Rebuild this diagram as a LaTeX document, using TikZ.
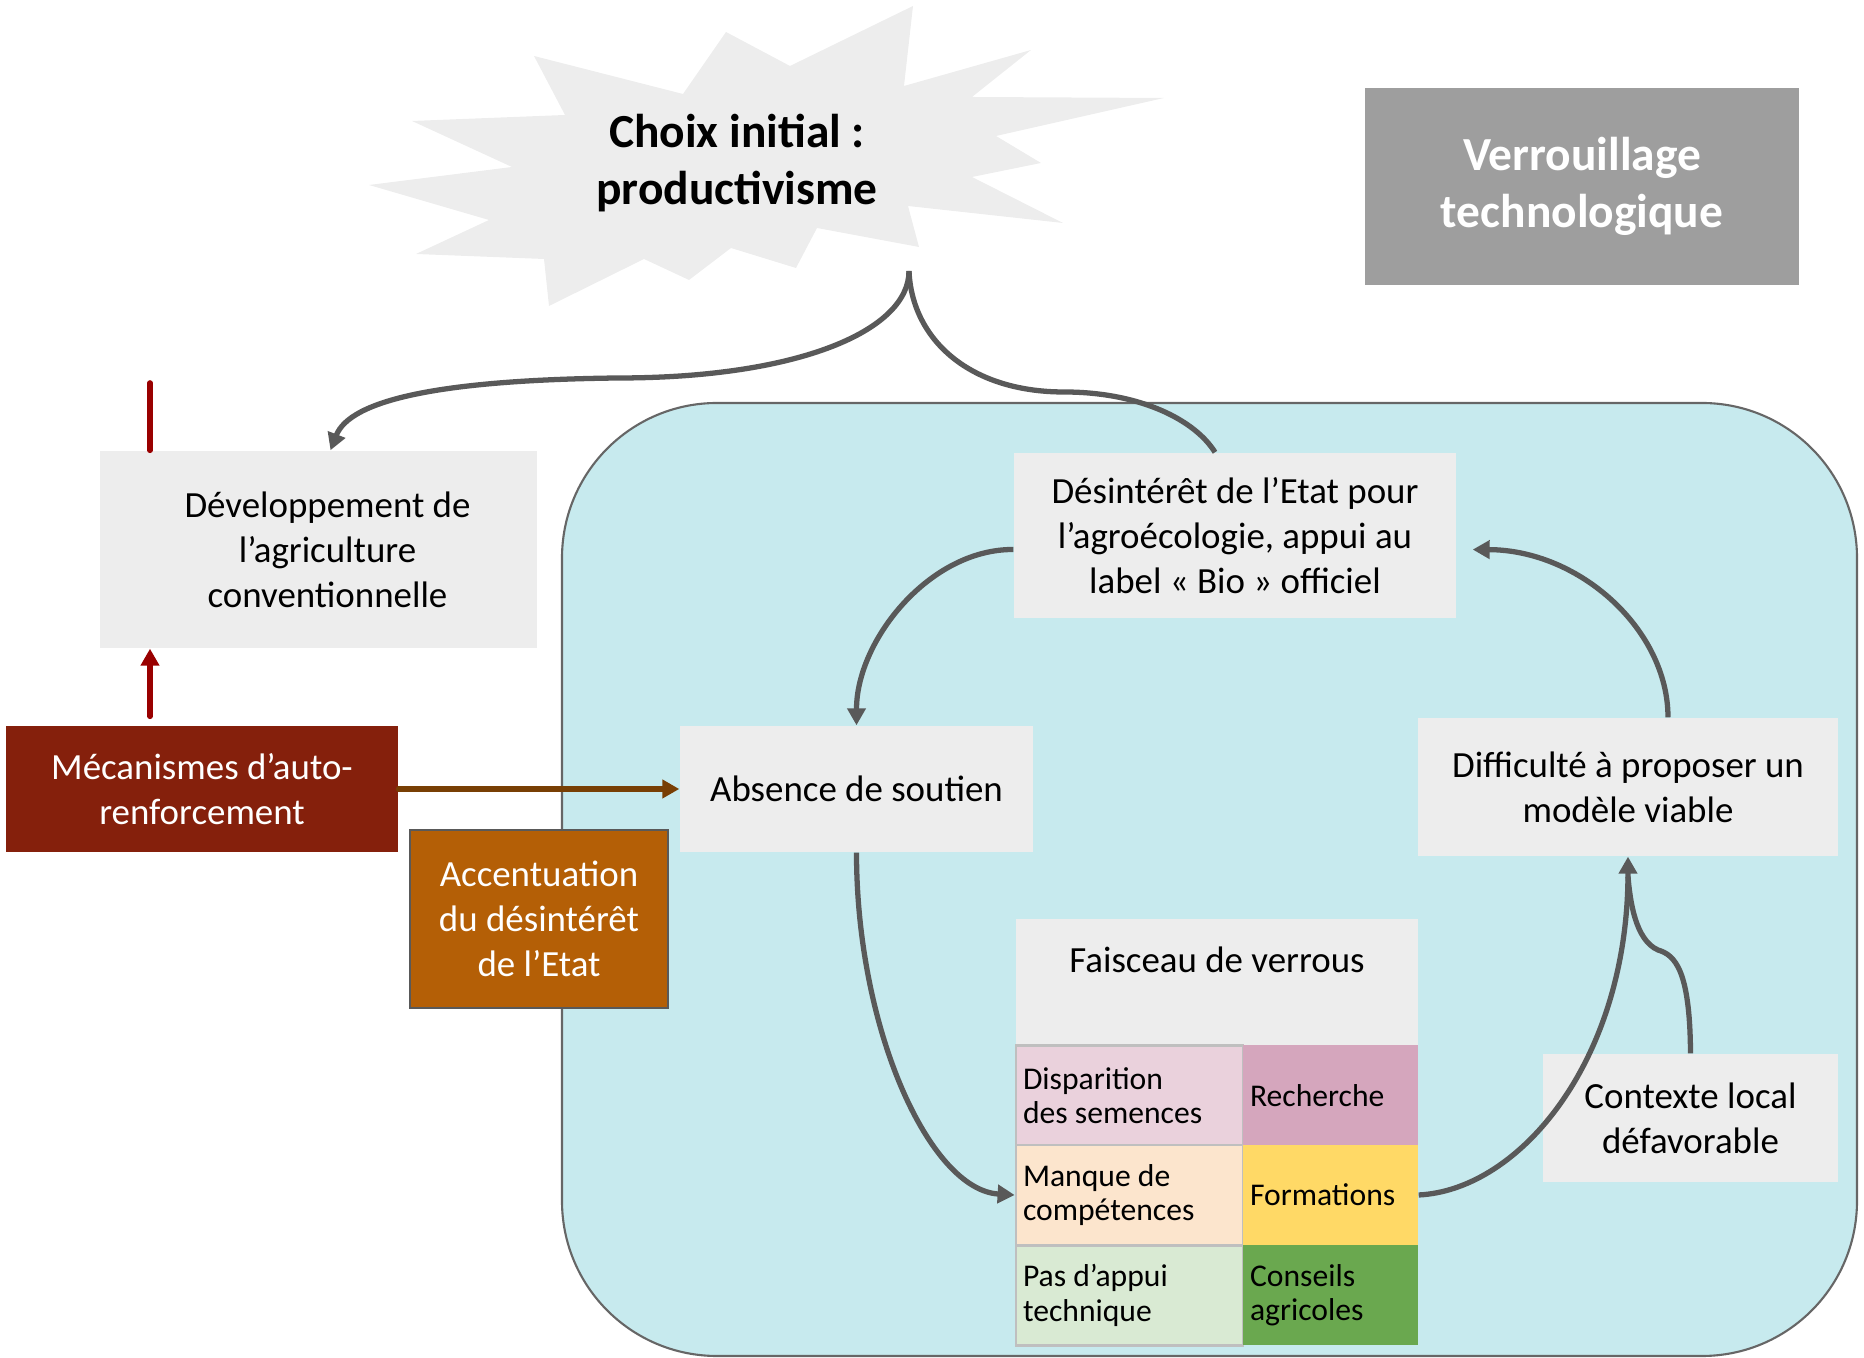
\documentclass[tikz,border=0pt]{standalone}
\usepackage{fontspec}
\setmainfont{Carlito}
\usetikzlibrary{arrows.meta}
\definecolor{boxgray}{RGB}{237,237,237}
\definecolor{lockgray}{RGB}{158,158,158}
\definecolor{lockbg}{RGB}{199,234,238}
\definecolor{mecred}{RGB}{133,32,12}
\definecolor{accbrown}{RGB}{180,95,6}
\definecolor{linkgray}{RGB}{89,89,89}
\definecolor{redline}{RGB}{153,0,0}
\definecolor{brownline}{RGB}{120,63,4}
\definecolor{pinkL}{RGB}{234,209,220}
\definecolor{pinkD}{RGB}{213,166,189}
\definecolor{orangeL}{RGB}{252,229,205}
\definecolor{yellowD}{RGB}{255,217,102}
\definecolor{greenL}{RGB}{217,234,211}
\definecolor{greenD}{RGB}{106,168,79}
\newcommand{\boxfont}{\fontsize{10.5}{12.8}\selectfont}
\newcommand{\cellfont}{\fontsize{9}{9.8}\selectfont}
\newcommand{\headfont}{\fontsize{13.5}{16.2}\selectfont\bfseries}

\begin{document}
\begin{tikzpicture}[
    box/.style={fill=boxgray, inner sep=0pt, align=center, font=\boxfont},
    cell/.style={inner xsep=0.07cm, inner ysep=0pt, align=flush left, font=\cellfont, minimum height=1.0cm},
    link/.style={draw=linkgray, line width=1.5pt, -{Triangle[length=1.7mm,width=1.8mm]}},
    side/.style={line width=1.6pt, line cap=round, -{Triangle[length=1.7mm,width=1.8mm]}}
  ]
    \useasboundingbox (0,0) rectangle (18.64,-13.58);

    \fill[boxgray] (9.13,-0.06) -- (9.04,-0.86) -- (10.31,-0.50) -- (9.72,-0.97) -- (11.64,-0.98)
        -- (9.96,-1.36) -- (10.41,-1.63) -- (9.72,-1.77) -- (10.63,-2.23) -- (9.08,-2.06)
        -- (9.19,-2.47) -- (8.17,-2.28) -- (7.96,-2.68) -- (7.31,-2.48) -- (6.89,-2.80)
        -- (6.44,-2.59) -- (5.49,-3.06) -- (5.44,-2.59) -- (4.16,-2.54) -- (4.89,-2.20)
        -- (3.69,-1.85) -- (5.12,-1.67) -- (4.12,-1.21) -- (5.65,-1.15) -- (5.34,-0.56)
        -- (6.83,-0.94) -- (7.26,-0.32) -- (7.90,-0.66) -- cycle;
    \node[font=\headfont, align=center] (choix) at (7.37,-1.63) {Choix initial :\\productivisme};
    \coordinate (cbot) at (9.09,-2.71);

    \node[box, fill=lockgray, text=white, font=\headfont, minimum width=4.34cm, minimum height=1.97cm] (verr) at (15.82,-1.865) {Verrouillage\\technologique};

    \draw[draw=black!60, line width=0.6pt, fill=lockbg, rounded corners=1.55cm] (5.62,-4.03) rectangle (18.57,-13.56);

    \node[box, minimum width=4.37cm, minimum height=1.97cm] (dev) at (3.185,-5.495) {\hspace*{1.8mm}Développement de\\\hspace*{1.8mm}l’agriculture\\\hspace*{1.8mm}conventionnelle};
    \node[box, fill=mecred, text=white, minimum width=3.92cm, minimum height=1.26cm] (mec) at (2.02,-7.89) {Mécanismes d’auto-\\renforcement};
    \node[box, fill=accbrown, draw=black!65, line width=0.6pt, text=white, minimum width=2.58cm, minimum height=1.78cm] (acc) at (5.39,-9.19) {Accentuation\\du désintérêt\\de l’Etat};

    \node[box, minimum width=4.42cm, minimum height=1.65cm] (des) at (12.35,-5.355) {Désintérêt de l’Etat pour\\l’agroécologie, appui au\\label « Bio » officiel};
    \node[box, minimum width=3.53cm, minimum height=1.26cm] (abs) at (8.565,-7.89) {Absence de soutien};
    \node[box, minimum width=4.20cm, minimum height=1.38cm] (diff) at (16.28,-7.87) {Difficulté à proposer un\\modèle viable};
    \node[box, minimum width=2.95cm, minimum height=1.28cm] (ctx) at (16.905,-11.18) {Contexte local\\défavorable};

    \node[box, minimum width=4.02cm, minimum height=1.27cm, label={[font=\boxfont, anchor=center, yshift=-0.42cm]north:Faisceau de verrous}] (fais) at (12.17,-9.825) {};
    \node[cell, fill=pinkL, draw=black!25, line width=0.8pt, text width=2.13cm] (disp) at (11.295,-10.955) {Disparition\\des semences};
    \node[cell, fill=orangeL, draw=black!25, line width=0.8pt, text width=2.13cm] (man) at (11.295,-11.95) {Manque de\\compétences};
    \node[cell, fill=greenL, draw=black!25, line width=0.8pt, text width=2.13cm] (pas) at (11.295,-12.955) {Pas d’appui\\technique};
    \node[cell, fill=pinkD, text width=1.61cm] (rech) at (13.305,-10.955) {Recherche};
    \node[cell, fill=yellowD, text width=1.61cm] (form) at (13.305,-11.95) {Formations};
    \node[cell, fill=greenD, text width=1.61cm] (cons) at (13.305,-12.955) {Conseils\\agricoles};

    \coordinate (rtop) at (1.50,-3.83);
    \draw[redline, line width=1.6pt, line cap=round] (rtop) -- (rtop |- dev.north);
    \draw[side, redline, shorten <=0.9mm] (rtop |- mec.north) -- (rtop |- dev.south);
    \draw[side, brownline] (mec.east) -- (abs.west);

    \draw[link] (cbot) .. controls (9.09,-3.3) and (8.0,-3.78) .. (6.18,-3.78)
        .. controls (4.4,-3.8) and (3.5,-4.0) .. ([xshift=1.2mm]dev.north);
    \draw[link, -] (cbot) .. controls (9.12,-3.4) and (9.7,-3.92) .. (10.64,-3.92)
        .. controls (11.4,-3.92) and (11.95,-4.2) .. ([xshift=-2mm]des.north);
    \draw[link] ([yshift=-1.4mm]des.west) .. controls (9.3,-5.49) and (8.565,-6.4) .. (abs.north);
    \draw[link] (abs.south) .. controls (8.565,-10.3) and (9.3,-11.9) .. (man.west);
    \draw[link] (form.east) .. controls (15.2,-11.9) and (16.28,-10.6) .. (diff.south);
    \draw[link, -] (ctx.north) .. controls (16.9,-9.7) and (16.75,-9.55) .. (16.58,-9.5)
        .. controls (16.35,-9.4) and (16.3,-9.0) .. ([yshift=-2mm]diff.south);
    \draw[link, shorten >=1.6mm] ([xshift=4mm]diff.north) .. controls (16.68,-6.3) and (15.8,-5.5) .. ([yshift=-1.4mm]des.east);
\end{tikzpicture}
\end{document}
